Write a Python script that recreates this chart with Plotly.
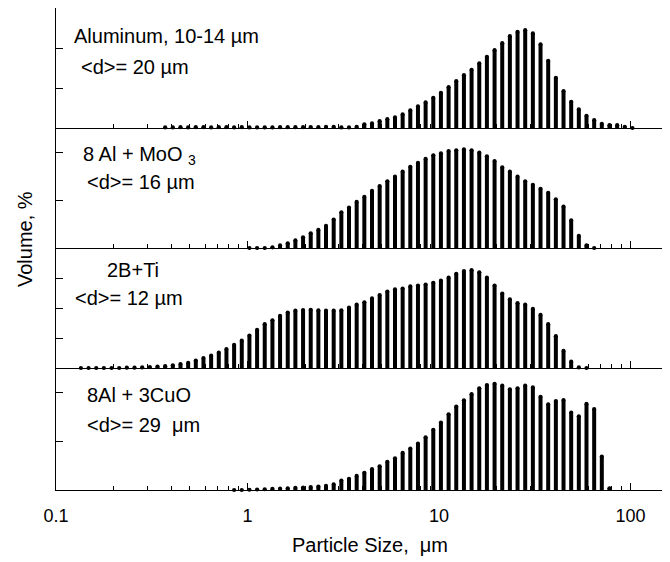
import plotly.graph_objects as go

# Particle size bins (µm), log-spaced, shared by all four samples
SIZES_UM = [0.1349, 0.1479, 0.1622, 0.1778, 0.1950, 0.2138, 0.2344, 0.2570, 0.2818, 0.3090,
            0.3388, 0.3715, 0.4074, 0.4467, 0.4898, 0.5370, 0.5888, 0.6457, 0.7079, 0.7762,
            0.8511, 0.9333, 1.023, 1.122, 1.230, 1.349, 1.479, 1.622, 1.778, 1.950,
            2.138, 2.344, 2.570, 2.818, 3.090, 3.388, 3.715, 4.074, 4.467, 4.898,
            5.370, 5.888, 6.457, 7.079, 7.762, 8.511, 9.333, 10.23, 11.22, 12.30,
            13.49, 14.79, 16.22, 17.78, 19.50, 21.38, 23.44, 25.70, 28.18, 30.90,
            33.88, 37.15, 40.74, 44.67, 48.98, 53.70, 58.88, 64.57, 70.79, 77.62,
            85.11, 93.33, 102.3]

N = None
# Volume % per bin (None = no bar)
AL_VOL = [N, N, N, N, N, N, N, N, N, N, N,
          0.03, 0.03, 0.04, 0.03, 0.04, 0.04, 0.03, 0.04, 0.04, 0.03,
          0.04, 0.03, 0.03, 0.03, 0.03, 0.04, 0.04, 0.04, 0.04, 0.05,
          0.05, 0.06, 0.06, 0.03, 0.03, 0.06, 0.18, 0.23, 0.34, 0.44,
          0.53, 0.68, 0.88, 1.08, 1.28, 1.51, 1.76, 2.04, 2.34, 2.64,
          2.91, 3.23, 3.56, 3.89, 4.24, 4.59, 4.81, 4.89, 4.73, 4.18,
          3.36, 2.51, 1.84, 1.31, 0.93, 0.61, 0.39, 0.21, 0.14, 0.14,
          0.06, 0.0]

MOO3_VOL = [N] * 22 + [
    0.0, 0.0, 0.0, 0.03, 0.11, 0.20, 0.32, 0.45, 0.62, 0.76,
    0.93, 1.20, 1.50, 1.70, 1.94, 2.15, 2.40, 2.61, 2.81, 3.00,
    3.21, 3.42, 3.58, 3.75, 3.90, 3.98, 4.08, 4.11, 4.15, 4.11,
    4.01, 3.86, 3.66, 3.39, 3.21, 3.00, 2.81, 2.66, 2.49, 2.32,
    2.05, 1.74, 1.16, 0.51, 0.11, 0.0] + [N] * 5

BTI_VOL = [0.0, 0.0, 0.0, 0.0, 0.0, 0.0, 0.01, 0.01, 0.02, 0.03,
           0.05, 0.06, 0.09, 0.13, 0.17, 0.25, 0.33, 0.41, 0.51, 0.63,
           0.77, 0.91, 1.08, 1.27, 1.46, 1.59, 1.74, 1.85, 1.91, 1.93,
           1.94, 1.92, 1.91, 1.91, 1.92, 2.01, 2.11, 2.19, 2.32, 2.43,
           2.55, 2.62, 2.65, 2.72, 2.75, 2.78, 2.84, 2.91, 3.01, 3.14,
           3.23, 3.26, 3.19, 3.01, 2.75, 2.48, 2.29, 2.16, 2.11, 1.97,
           1.77, 1.46, 1.06, 0.57, 0.21, 0.02, 0.0] + [N] * 6

CUO_VOL = [N] * 20 + [
    0.0, 0.0, 0.01, 0.02, 0.03, 0.05, 0.06, 0.07, 0.09, 0.10,
    0.12, 0.14, 0.17, 0.23, 0.39, 0.46, 0.58, 0.71, 0.86, 0.98,
    1.16, 1.31, 1.53, 1.71, 1.91, 2.17, 2.48, 2.78, 3.12, 3.44,
    3.70, 3.95, 4.19, 4.33, 4.38, 4.30, 4.15, 4.19, 4.30, 4.23,
    3.84, 3.53, 3.67, 3.71, 3.19, 3.04, 3.55, 3.34, 1.38, 0.07] + [N] * 3

SERIES = [AL_VOL, MOO3_VOL, BTI_VOL, CUO_VOL]
LABEL1 = ["Aluminum, 10-14 µm", "8 Al + MoO <sub>3</sub>", "2B+Ti", "8Al + 3CuO"]
LABEL2 = ["&lt;d&gt;= 20 µm", "&lt;d&gt;= 16 µm", "&lt;d&gt;= 12 µm", "&lt;d&gt;= 29\u00a0 μm"]
Y_MAX = [6.0, 5.05, 4.0, 5.03]
Y_DTICK = [2, 2, 1, 2]
X_TICKS = [0.1, 1, 10, 100]
X_TICKTEXT = ["0.1", "1", "10", "100"]
X_MINOR = [m * d for d in (0.1, 1, 10, 100) for m in range(2, 10)]

FONT = "Liberation Sans, Arial, sans-serif"
# The page body has an 8 px default margin; the figure is sized to fill the rest
# of the 670x562 window.  Page coordinates below are converted accordingly.
PAGE_OFF = 8
W, H = 670 - PAGE_OFF, 562 - PAGE_OFF
PLOT_L, PLOT_R, PLOT_T, PLOT_B = 56, 670, 8, 490      # plot area in page pixels
L = PLOT_L - PAGE_OFF
R = W - (PLOT_R - PAGE_OFF)
T = PLOT_T - PAGE_OFF
B = H - (PLOT_B - PAGE_OFF)
plot_h = PLOT_B - PLOT_T
plot_w = PLOT_R - PLOT_L
EDGES = [8, 128, 248, 368, 490]   # panel boundaries in page pixels

fig = go.Figure()
for i, vals in enumerate(SERIES):
    ax = "" if i == 0 else str(i + 1)
    xs, ys, mx, my = [], [], [], []
    for s, v in zip(SIZES_UM, vals):
        if v is None:
            continue
        xs += [s, s, None]
        ys += [0, v, None]
        mx.append(s)
        my.append(v)
    fig.add_trace(go.Scatter(x=xs, y=ys, mode="lines", line=dict(color="#000", width=4),
                             xaxis="x" + ax, yaxis="y" + ax, showlegend=False,
                             hoverinfo="skip", connectgaps=False))
    fig.add_trace(go.Scatter(x=mx, y=my, mode="markers",
                             marker=dict(color="#000", size=4.2, line=dict(width=0)),
                             xaxis="x" + ax, yaxis="y" + ax, showlegend=False,
                             cliponaxis=False))

layout = dict(width=W, height=H, margin=dict(l=L, r=R, t=T, b=B, autoexpand=False),
              paper_bgcolor="white", plot_bgcolor="white",
              font=dict(family=FONT, size=18, color="#000"), showlegend=False)

for i in range(4):
    ax = "" if i == 0 else str(i + 1)
    top_px, bot_px = EDGES[i], EDGES[i + 1]
    d0 = (PLOT_B - bot_px) / plot_h
    d1 = (PLOT_B - top_px) / plot_h
    xa = dict(type="log", range=[-1, 2.206], domain=[0, 1], anchor="y" + ax,
              automargin=False,
              showline=True, linecolor="#000", linewidth=1.2, mirror=(i == 0),
              showgrid=False, zeroline=False,
              ticks="inside", ticklen=7, tickwidth=1, tickcolor="#000",
              tickmode="array", tickvals=X_TICKS, ticktext=X_TICKTEXT,
              showticklabels=(i == 3), tickfont=dict(size=18, family=FONT),
              ticklabelstandoff=9,
              minor=dict(tickmode="array", tickvals=X_MINOR, ticks="inside",
                         ticklen=4, tickwidth=1, tickcolor="#000", showgrid=False))
    if i > 0:
        xa["matches"] = "x"
    ya = dict(range=[0, Y_MAX[i]], domain=[d0, d1], anchor="x" + ax,
              automargin=False,
              showline=True, linecolor="#000", linewidth=1.2,
              showgrid=False, zeroline=False,
              ticks="inside", ticklen=7, tickwidth=1, tickcolor="#000",
              dtick=Y_DTICK[i], tick0=0, showticklabels=False)
    layout["xaxis" + ax] = xa
    layout["yaxis" + ax] = ya

fig.update_layout(**layout)

def px2paper(xp, yp):
    return (xp - PLOT_L) / plot_w, (PLOT_B - yp) / plot_h

ann_pos1 = [(72, 36), (81, 155), (105, 270), (85, 395)]
ann_pos2 = [(79, 67), (85, 182), (73, 298), (85, 425)]
for i in range(4):
    for txt, (xp, yp) in ((LABEL1[i], ann_pos1[i]), (LABEL2[i], ann_pos2[i])):
        x, y = px2paper(xp, yp)
        fig.add_annotation(text=txt, x=x, y=y, xref="paper", yref="paper",
                           xanchor="left", yanchor="middle", showarrow=False,
                           font=dict(size=20, family=FONT, color="#000"))

x, y = px2paper(370, 545)
fig.add_annotation(text="Particle Size,\u00a0 μm", x=x, y=y, xref="paper", yref="paper",
                   xanchor="center", yanchor="middle", showarrow=False,
                   font=dict(size=20, family=FONT, color="#000"))
x, y = px2paper(25, 239)
fig.add_annotation(text="Volume, %", x=x, y=y, xref="paper", yref="paper",
                   xanchor="center", yanchor="middle", showarrow=False, textangle=-90,
                   font=dict(size=20, family=FONT, color="#000"))

fig.write_html("out.html")
